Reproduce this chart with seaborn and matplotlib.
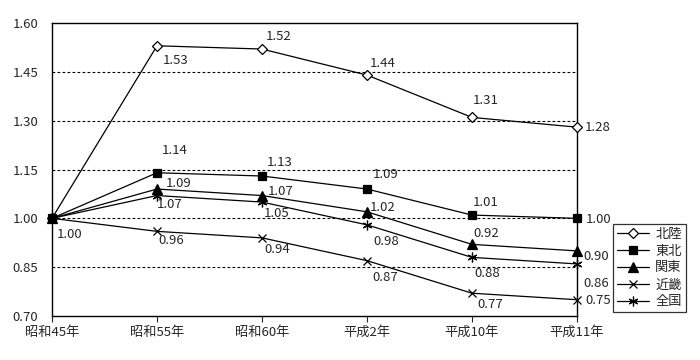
import matplotlib
matplotlib.use("Agg")
import matplotlib.pyplot as plt
import pandas as pd
import seaborn as sns

years = ["昭和45年", "昭和55年", "昭和60年", "平成2年", "平成10年", "平成11年"]
series_names = ["北陸", "東北", "関東", "近畿", "全国"]
hokuriku = [1.00, 1.53, 1.52, 1.44, 1.31, 1.28]
tohoku = [1.00, 1.14, 1.13, 1.09, 1.01, 1.00]
kanto = [1.00, 1.09, 1.07, 1.02, 0.92, 0.90]
kinki = [1.00, 0.96, 0.94, 0.87, 0.77, 0.75]
zenkoku = [1.00, 1.07, 1.05, 0.98, 0.88, 0.86]
y_ticks = [0.70, 0.85, 1.00, 1.15, 1.30, 1.45, 1.60]

values = [hokuriku, tohoku, kanto, kinki, zenkoku]

# marker styles per series: (marker, face, size)
styles = {
    "北陸": ("D", "white", 5.5),
    "東北": ("s", "black", 6),
    "関東": ("^", "black", 7),
    "近畿": ("x", "none", 6),
    "全国": ((6, 2, 0), "none", 7),
}

# label offsets in pixels (dx, dy) from each point; None = no label
offsets = {
    "北陸": [None, (6, -15), (4, 13), (3, 12), (1, 17), (8, 0)],
    "東北": [(5, -16), (5, 22), (5, 14), (6, 15), (1, 13), (9, -1)],
    "関東": [None, (9, 6), (6, 4), (3, 4), (1, 11), (6, -6)],
    "近畿": [None, (1, -9), (2, -12), (5, -17), (5, -11), (8, -1)],
    "全国": [None, (0, -9), (2, -11), (6, -17), (2, -16), (6, -20)],
}

sns.set_style("white")
plt.rcParams["font.family"] = ["Noto Sans CJK JP", "DejaVu Sans"]

fig = plt.figure(figsize=(7, 3.6), dpi=100)
ax = fig.add_axes([52 / 700, 44 / 360, 525 / 700, 293 / 360])

for name, vals in zip(series_names, values):
    df = pd.DataFrame({"x": range(len(years)), "y": vals})
    m, face, size = styles[name]
    sns.lineplot(
        data=df, x="x", y="y", ax=ax, color="black", linewidth=0.9,
        marker=m, markersize=size, markerfacecolor=face,
        markeredgecolor="black", markeredgewidth=0.9, label=name,
        clip_on=False, zorder=3,
    )
    for i, v in enumerate(vals):
        off = offsets[name][i]
        if off is None:
            continue
        ax.annotate(f"{v:.2f}", (i, v), xytext=off, textcoords="offset pixels",
                    ha="left", va="center", fontsize=9.5)

ax.set_xlim(0, len(years) - 1)
ax.set_ylim(0.70, 1.60)
ax.set_xticks(range(len(years)))
ax.set_xticklabels(years, fontsize=9.5)
ax.set_yticks(y_ticks)
ax.set_yticklabels([f"{t:.2f}" for t in y_ticks], fontsize=9.5)
ax.set_xlabel("")
ax.set_ylabel("")
for t in y_ticks[1:-1]:
    ax.axhline(t, color="black", linewidth=0.8, linestyle=(0, (2.5, 2)), zorder=0)
for s in ax.spines.values():
    s.set_color("black")
    s.set_linewidth(1.0)
ax.tick_params(axis="x", length=4, width=0.8, direction="out", pad=3, bottom=True)
ax.tick_params(axis="y", length=0, pad=10)

ax.legend_.remove()
handles, labels = ax.get_legend_handles_labels()
leg = fig.legend(handles, labels, loc="center left", bbox_to_anchor=(613 / 700, 92 / 360),
                 fontsize=9.5, frameon=True, fancybox=False, edgecolor="black",
                 handlelength=2.4, handletextpad=0.5, borderpad=0.3, labelspacing=0.3,
                 borderaxespad=0)
leg.get_frame().set_linewidth(0.9)

fig.savefig("out.png", dpi=100)
